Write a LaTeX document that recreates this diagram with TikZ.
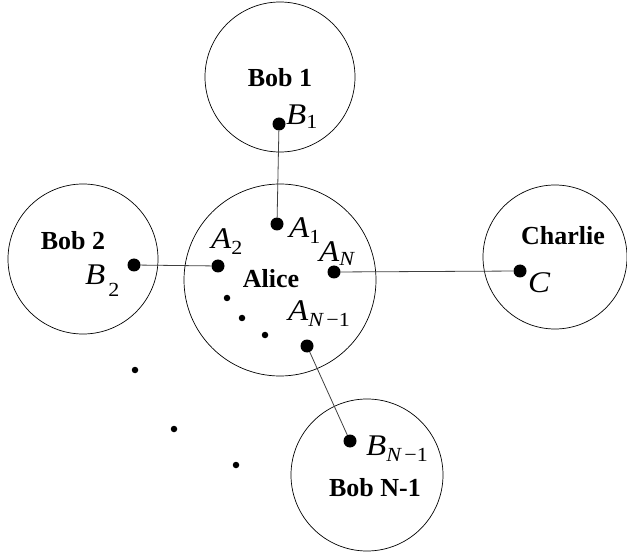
\documentclass[tikz,border=0pt]{standalone}
\usepackage{fontspec}
\setmainfont{Liberation Serif}
\newfontfamily\symfont[FakeStretch=1.1]{Liberation Serif}
\begin{document}
\begin{tikzpicture}[x=1pt,y=-1pt,
  party/.style={circle, draw, line width=0.7pt, inner sep=0pt},
  bigdot/.style={circle, fill, inner sep=0pt, minimum size=13pt},
  smalldot/.style={circle, fill, inner sep=0pt, minimum size=6.5pt},
  partyname/.style={font=\fontsize{26}{26}\selectfont\bfseries, inner sep=0pt},
  sym/.style={font=\symfont\fontsize{30}{30}\selectfont\itshape, inner sep=0pt, anchor=base west},
  link/.style={draw=black!75, line width=0.8pt}]
\useasboundingbox (0,0) rectangle (627,556);
\newcommand{\sbs}[2][6pt]{\raisebox{-#1}{\fontsize{20}{20}\selectfont\upshape #2}}
% circles
\node[party, minimum size=150pt] (bob1c) at (280,77) {};
\node[party, minimum size=192pt] (alicec) at (280,280) {};
\node[party, minimum size=150pt] (bob2c) at (83,259) {};
\node[party, minimum size=144pt] (charliec) at (555,257) {};
\node[party, minimum size=152pt] (bobnc) at (367,475) {};
% names
\node[partyname] (bob1n) at (280,78) {Bob 1};
\node[partyname] (bob2n) at (73,241) {Bob 2};
\node[partyname] (charlien) at (563,236) {Charlie};
\node[partyname] (alicen) at (271,279) {Alice};
\node[partyname] (bobnn) at (375,488) {Bob N-1};
% dots
\node[bigdot] (b1) at (279,124) {};
\node[bigdot] (a1) at (277,224) {};
\node[bigdot] (a2) at (218,266) {};
\node[bigdot] (an) at (334,272) {};
\node[bigdot] (anm) at (307,346) {};
\node[bigdot] (b2) at (134,265) {};
\node[bigdot] (c) at (520,271) {};
\node[bigdot] (bnm) at (350,441) {};
\node[smalldot] (s1) at (227,298) {};
\node[smalldot] (s2) at (242,318) {};
\node[smalldot] (s3) at (265,335) {};
\node[smalldot] (o1) at (135,370) {};
\node[smalldot] (o2) at (174,429) {};
\node[smalldot] (o3) at (236,465) {};
% links
\path[link] (b1) -- (a1);
\path[link] (b2) -- (a2);
\path[link] (an) -- (c);
\path[link] (anm) -- (bnm);
% symbols
\node[sym] (lb1) at (286,125) {B\sbs[4pt]{1}};
\node[sym] (la1) at (289,238) {A\sbs{1}};
\node[sym] (la2) at (211,249) {A\sbs{2}};
\node[sym] (lan) at (319,262) {A\sbs[4pt]{\itshape N}};
\node[sym] (lanm) at (288,320) {A\sbs{{\itshape N}\,−1}};
\node[sym] (lb2) at (85,285) {B\hspace{3pt}\sbs[12pt]{2}};
\node[sym] (lc) at (528,293) {C};
\node[sym] (lbnm) at (366,455) {B\sbs{{\itshape N}\,−1}};
\end{tikzpicture}
\end{document}
